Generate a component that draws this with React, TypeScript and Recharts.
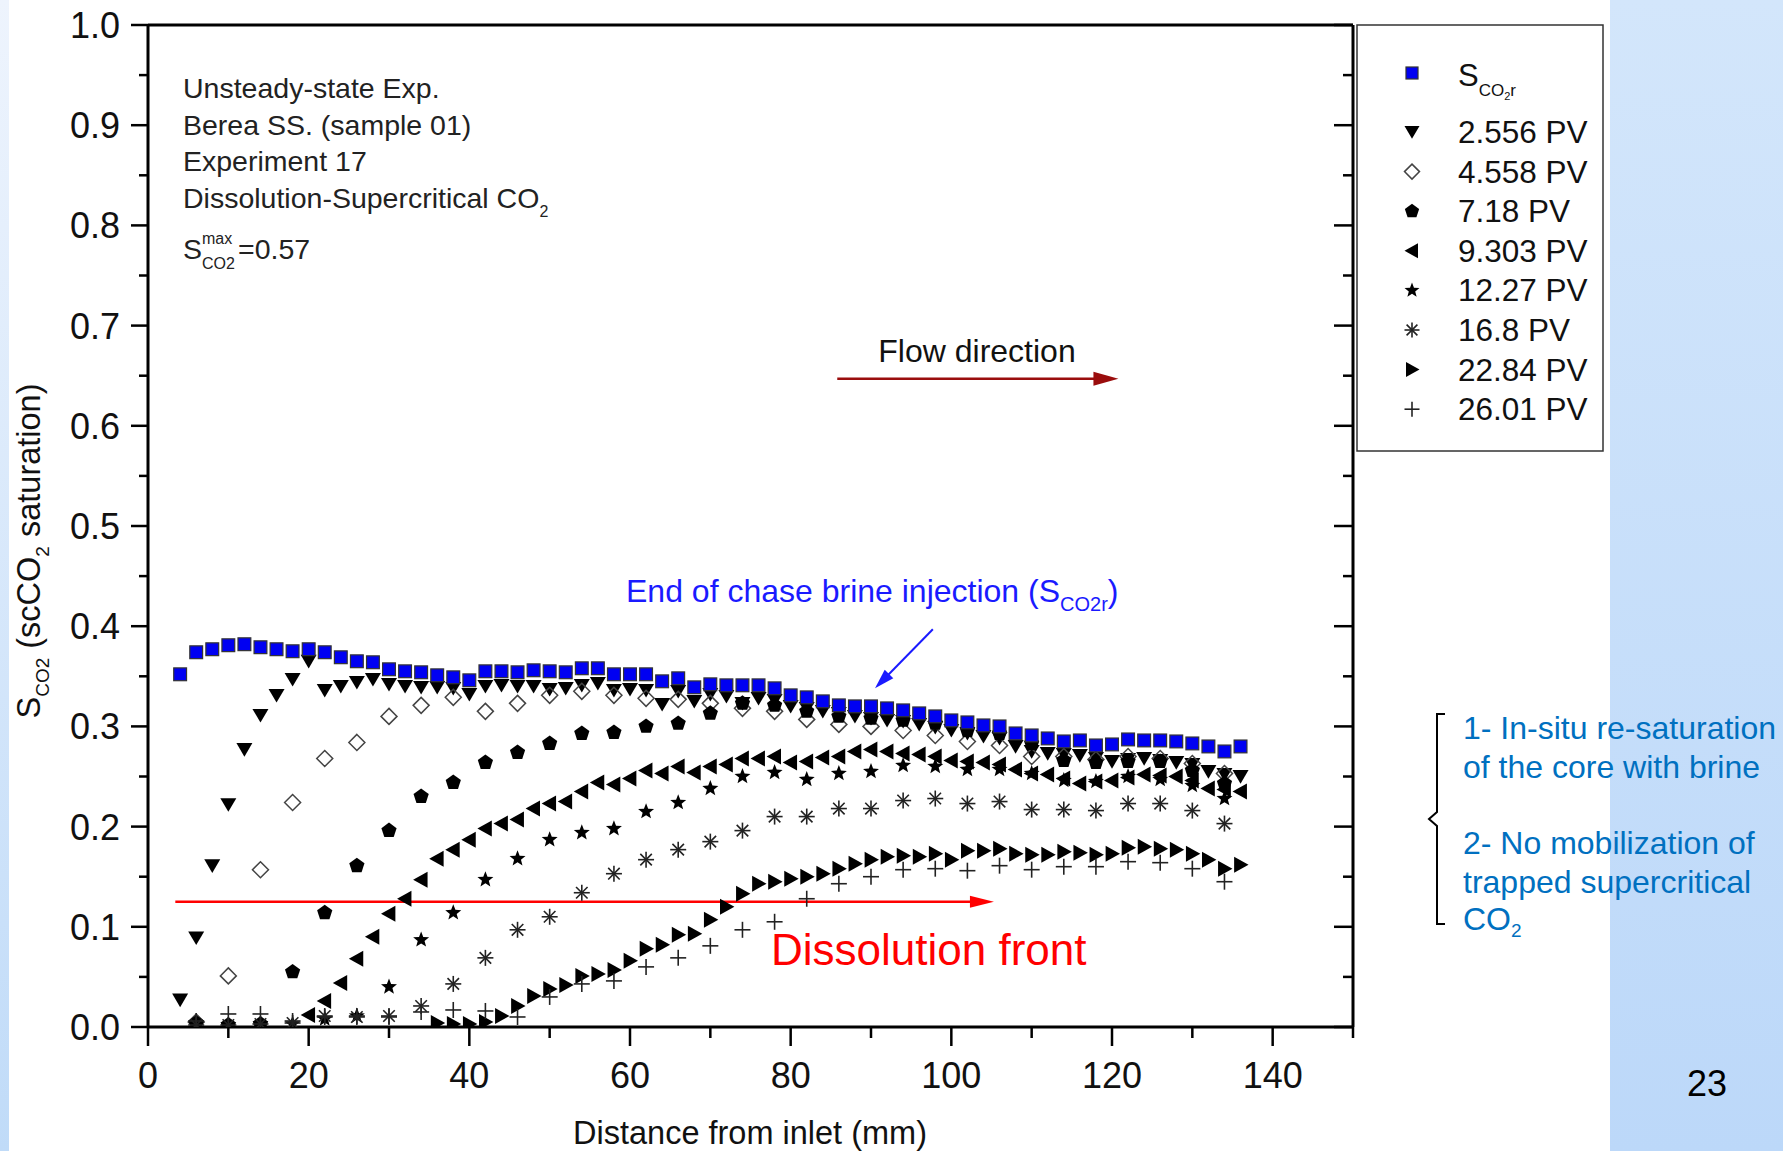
import React from "react";
import { ScatterChart, Scatter, XAxis, YAxis, ReferenceLine } from "recharts";

const FONT = "'Liberation Sans', Arial, Helvetica, sans-serif";

// distance from inlet (mm)
const X_STEP2 = [
  4, 6, 8, 10, 12, 14, 16, 18, 20, 22, 24, 26, 28, 30, 32, 34, 36, 38, 40, 42, 44, 46, 48, 50, 52, 54, 56, 58, 60, 62,
  64, 66, 68, 70, 72, 74, 76, 78, 80, 82, 84, 86, 88, 90, 92, 94, 96, 98, 100, 102, 104, 106, 108, 110, 112, 114, 116,
  118, 120, 122, 124, 126, 128, 130, 132, 134, 136,
];
const X_STEP4 = [
  6, 10, 14, 18, 22, 26, 30, 34, 38, 42, 46, 50, 54, 58, 62, 66, 70, 74, 78, 82, 86, 90, 94, 98, 102, 106, 110, 114,
  118, 122, 126, 130, 134,
];
const X_FROM20 = X_STEP2.slice(8);
const X_FROM36 = X_STEP2.slice(16);

// saturation values
const SCO2R = [
  0.352, 0.374, 0.377, 0.381, 0.382, 0.379, 0.377, 0.375, 0.377, 0.374,
  0.369, 0.365, 0.364, 0.357, 0.355, 0.354, 0.351, 0.349, 0.346, 0.355,
  0.355, 0.354, 0.356, 0.355, 0.354, 0.358, 0.358, 0.352, 0.352, 0.352,
  0.345, 0.348, 0.339, 0.342, 0.341, 0.341, 0.341, 0.338, 0.331, 0.329,
  0.325, 0.321, 0.32, 0.32, 0.318, 0.316, 0.313, 0.31, 0.306, 0.304,
  0.301, 0.3, 0.293, 0.291, 0.288, 0.285, 0.286, 0.281, 0.282, 0.287,
  0.286, 0.286, 0.285, 0.283, 0.28, 0.275, 0.28,
];
const PV_2556 = [
  0.027, 0.089, 0.161, 0.222, 0.277, 0.311, 0.331, 0.347, 0.365, 0.336,
  0.34, 0.344, 0.347, 0.342, 0.34, 0.339, 0.339, 0.338, 0.332, 0.34,
  0.341, 0.34, 0.34, 0.337, 0.338, 0.341, 0.343, 0.336, 0.337, 0.336,
  0.322, 0.335, 0.325, 0.332, 0.33, 0.323, 0.328, 0.326, 0.32, 0.318,
  0.315, 0.313, 0.31, 0.308, 0.306, 0.305, 0.302, 0.299, 0.296, 0.293,
  0.29, 0.288, 0.28, 0.275, 0.273, 0.272, 0.271, 0.268, 0.265, 0.267,
  0.268, 0.266, 0.264, 0.262, 0.255, 0.252, 0.25,
];
const PV_4558 = [
  0.005, 0.051, 0.157, 0.224, 0.268, 0.284, 0.31, 0.321, 0.329, 0.315,
  0.323, 0.331, 0.335, 0.331, 0.328, 0.327, 0.323, 0.318, 0.315, 0.307,
  0.302, 0.3, 0.296, 0.291, 0.285, 0.281, 0.27, 0.27, 0.267, 0.27,
  0.268, 0.263, 0.253,
];
const PV_718 = [
  0.004, 0.002, 0.003, 0.055, 0.114, 0.161, 0.196, 0.23, 0.244, 0.264,
  0.274, 0.283, 0.293, 0.294, 0.3, 0.303, 0.313, 0.323, 0.321, 0.315,
  0.31, 0.308, 0.306, 0.303, 0.296, 0.293, 0.283, 0.266, 0.264, 0.265,
  0.265, 0.256, 0.243,
];
const PV_9303 = [
  0.012, 0.026, 0.044, 0.068, 0.09, 0.113, 0.128, 0.147, 0.168, 0.177,
  0.187, 0.198, 0.203, 0.207, 0.218, 0.223, 0.225, 0.235, 0.244, 0.242,
  0.248, 0.256, 0.253, 0.26, 0.254, 0.26, 0.262, 0.268, 0.268, 0.27,
  0.264, 0.265, 0.269, 0.27, 0.275, 0.277, 0.275, 0.273, 0.272, 0.27,
  0.266, 0.265, 0.264, 0.262, 0.257, 0.253, 0.252, 0.248, 0.243, 0.245,
  0.246, 0.249, 0.252, 0.251, 0.25, 0.246, 0.238, 0.237, 0.235,
];
const PV_1227 = [
  0.002, 0.002, 0.003, 0.003, 0.008, 0.011, 0.04, 0.087, 0.114, 0.147,
  0.168, 0.187, 0.194, 0.198, 0.215, 0.224, 0.238, 0.25, 0.254, 0.247,
  0.253, 0.255, 0.261, 0.26, 0.257, 0.257, 0.253, 0.246, 0.245, 0.25,
  0.247, 0.241, 0.228,
];
const PV_168 = [
  0.002, 0.002, 0.003, 0.004, 0.011, 0.01, 0.011, 0.021, 0.043, 0.069,
  0.097, 0.11, 0.134, 0.153, 0.167, 0.177, 0.185, 0.196, 0.21, 0.21,
  0.218, 0.218, 0.226, 0.228, 0.223, 0.225, 0.217, 0.217, 0.216, 0.223,
  0.223, 0.216, 0.203,
];
const PV_2284 = [
  0.004, 0.003, 0.003, 0.005, 0.011, 0.021, 0.031, 0.038, 0.042, 0.051,
  0.053, 0.057, 0.066, 0.078, 0.082, 0.092, 0.093, 0.107, 0.12, 0.133,
  0.143, 0.145, 0.148, 0.15, 0.153, 0.158, 0.163, 0.167, 0.17, 0.171,
  0.17, 0.173, 0.167, 0.176, 0.176, 0.178, 0.173, 0.172, 0.172, 0.175,
  0.174, 0.172, 0.173, 0.179, 0.18, 0.178, 0.177, 0.173, 0.167, 0.158,
  0.162,
];
const PV_2601 = [
  0.006, 0.013, 0.013, 0.006, 0.01, 0.011, 0.01, 0.015, 0.017, 0.016,
  0.01, 0.03, 0.043, 0.046, 0.06, 0.069, 0.081, 0.097, 0.105, 0.128,
  0.143, 0.15, 0.157, 0.158, 0.156, 0.161, 0.157, 0.16, 0.16, 0.165,
  0.164, 0.158, 0.145,
];

const X_TICKS = [0, 10, 20, 30, 40, 50, 60, 70, 80, 90, 100, 110, 120, 130, 140, 150];
const Y_TICKS = [
  0, 0.05, 0.1, 0.15, 0.2, 0.25, 0.3, 0.35, 0.4, 0.45, 0.5, 0.55, 0.6, 0.65, 0.7, 0.75, 0.8, 0.85, 0.9, 0.95, 1.0,
];

// annotation arrows (data coordinates)
const FRONT_ARROW = [{ x: 3.4, y: 0.125 }, { x: 105.3, y: 0.125 }];
const FLOW_ARROW = [{ x: 85.8, y: 0.647 }, { x: 120.8, y: 0.647 }];
const CHASE_ARROW = [{ x: 97.7, y: 0.397 }, { x: 90.5, y: 0.338 }];

type Kind = "square" | "down" | "diamond" | "pentagon" | "left" | "star" | "asterisk" | "right" | "plus";

const toPoints = (xs: number[], ys: number[]) => ys.map((y, i) => ({ x: xs[i], y }));

const SERIES: { name: string; kind: Kind; data: { x: number; y: number }[] }[] = [
  { name: "2.556 PV", kind: "down", data: toPoints(X_STEP2, PV_2556) },
  { name: "4.558 PV", kind: "diamond", data: toPoints(X_STEP4, PV_4558) },
  { name: "7.18 PV", kind: "pentagon", data: toPoints(X_STEP4, PV_718) },
  { name: "9.303 PV", kind: "left", data: toPoints(X_FROM20, PV_9303) },
  { name: "12.27 PV", kind: "star", data: toPoints(X_STEP4, PV_1227) },
  { name: "16.8 PV", kind: "asterisk", data: toPoints(X_STEP4, PV_168) },
  { name: "22.84 PV", kind: "right", data: toPoints(X_FROM36, PV_2284) },
  { name: "26.01 PV", kind: "plus", data: toPoints(X_STEP4, PV_2601) },
];
const SCO2R_DATA = toPoints(X_STEP2, SCO2R);

function Marker({ kind, cx, cy, r = 8 }: { kind: Kind; cx: number; cy: number; r?: number }) {
  if (cx == null || cy == null) return null;
  switch (kind) {
    case "square": {
      const h = r * 0.8;
      return <rect x={cx - h} y={cy - h} width={2 * h} height={2 * h} fill="#0000f2" stroke="#333" strokeWidth={1.2} />;
    }
    case "down":
      return <polygon points={`${cx - r},${cy - r * 0.8} ${cx + r},${cy - r * 0.8} ${cx},${cy + r * 0.9}`} fill="#000" />;
    case "diamond":
      return (
        <polygon
          points={`${cx},${cy - r} ${cx + r},${cy} ${cx},${cy + r} ${cx - r},${cy}`}
          fill="none"
          stroke="#444"
          strokeWidth={1.5}
        />
      );
    case "pentagon": {
      const pts = [0, 1, 2, 3, 4]
        .map((k) => {
          const a = ((-90 + 72 * k) * Math.PI) / 180;
          return `${cx + r * Math.cos(a)},${cy + r * Math.sin(a)}`;
        })
        .join(" ");
      return <polygon points={pts} fill="#000" />;
    }
    case "left":
      return <polygon points={`${cx - r},${cy} ${cx + r * 0.8},${cy - r} ${cx + r * 0.8},${cy + r}`} fill="#000" />;
    case "right":
      return <polygon points={`${cx + r},${cy} ${cx - r * 0.8},${cy - r} ${cx - r * 0.8},${cy + r}`} fill="#000" />;
    case "star": {
      const pts = Array.from({ length: 10 }, (_, k) => {
        const a = ((-90 + 36 * k) * Math.PI) / 180;
        const rr = k % 2 === 0 ? r * 1.05 : r * 0.45;
        return `${cx + rr * Math.cos(a)},${cy + rr * Math.sin(a)}`;
      }).join(" ");
      return <polygon points={pts} fill="#000" />;
    }
    case "asterisk": {
      const d = r * 0.72;
      return (
        <g stroke="#222" strokeWidth={1.6}>
          <line x1={cx} y1={cy - r} x2={cx} y2={cy + r} />
          <line x1={cx - r} y1={cy} x2={cx + r} y2={cy} />
          <line x1={cx - d} y1={cy - d} x2={cx + d} y2={cy + d} />
          <line x1={cx - d} y1={cy + d} x2={cx + d} y2={cy - d} />
        </g>
      );
    }
    case "plus":
      return (
        <g stroke="#222" strokeWidth={1.6}>
          <line x1={cx} y1={cy - r} x2={cx} y2={cy + r} />
          <line x1={cx - r} y1={cy} x2={cx + r} y2={cy} />
        </g>
      );
  }
  return null;
}

const isMajorX = (v: number) => v % 20 === 0;
const isMajorY = (v: number) => Math.round(v * 20) % 2 === 0;

function BottomTick(props: any) {
  const { x, y, payload } = props;
  const v = payload.value;
  const major = isMajorX(v);
  return (
    <g>
      <line x1={x} y1={y} x2={x} y2={y + (major ? 19 : 11)} stroke="#000" strokeWidth={2.5} />
      {major && v < 150 && (
        <text x={x} y={y + 61} textAnchor="middle" fontSize={36} fontFamily={FONT} fill="#111">
          {v}
        </text>
      )}
    </g>
  );
}

function TopTick(props: any) {
  const { x, y, payload } = props;
  const major = isMajorX(payload.value);
  return <line x1={x} y1={y} x2={x} y2={y + (major ? 19 : 11)} stroke="#000" strokeWidth={2.5} />;
}

function LeftTick(props: any) {
  const { x, y, payload } = props;
  const v = payload.value;
  const major = isMajorY(v);
  return (
    <g>
      <line x1={x - (major ? 17 : 9)} y1={y} x2={x} y2={y} stroke="#000" strokeWidth={2.5} />
      {major && (
        <text x={x - 28} y={y} dy="0.36em" textAnchor="end" fontSize={36} fontFamily={FONT} fill="#111">
          {v.toFixed(1)}
        </text>
      )}
    </g>
  );
}

function RightTick(props: any) {
  const { x, y, payload } = props;
  const major = isMajorY(payload.value);
  return <line x1={x - (major ? 19 : 10)} y1={y} x2={x} y2={y} stroke="#000" strokeWidth={2.5} />;
}

const arrowShape = (color: string, width: number, headLen: number, headW: number) => (p: any) => {
  const { x1, y1, x2, y2 } = p;
  const dx = x2 - x1;
  const dy = y2 - y1;
  const len = Math.hypot(dx, dy) || 1;
  const ux = dx / len;
  const uy = dy / len;
  const bx = x2 - ux * headLen;
  const by = y2 - uy * headLen;
  const nx = -uy;
  const ny = ux;
  return (
    <g>
      <line x1={x1} y1={y1} x2={bx + ux * 2} y2={by + uy * 2} stroke={color} strokeWidth={width} />
      <polygon
        points={`${x2},${y2} ${bx + (nx * headW) / 2},${by + (ny * headW) / 2} ${bx - (nx * headW) / 2},${by - (ny * headW) / 2}`}
        fill={color}
      />
    </g>
  );
};

function Overlay() {
  const legendRows: { kind: Kind; label: string }[] = SERIES.map((s) => ({ kind: s.kind, label: s.name }));
  return (
    <svg
      width={1783}
      height={1151}
      style={{ position: "absolute", left: 0, top: 0, pointerEvents: "none" }}
      fontFamily={FONT}
    >
      {/* info block */}
      <g fontSize={28.5} fill="#222">
        <text x={183} y={98}>Unsteady-state Exp.</text>
        <text x={183} y={134.5}>Berea SS. (sample 01)</text>
        <text x={183} y={171}>Experiment 17</text>
        <text x={183} y={207.5}>
          Dissolution-Supercritical CO<tspan fontSize={16} dy={9}>2</tspan>
        </text>
        <text x={183} y={259}>S</text>
        <text x={202} y={244} fontSize={16}>max</text>
        <text x={202} y={269} fontSize={16}>CO2</text>
        <text x={238} y={259}>=0.57</text>
      </g>

      <text x={977} y={362} fontSize={32} textAnchor="middle" fill="#111">
        Flow direction
      </text>

      <text x={626} y={602} fontSize={32} fill="#1a1aff">
        End of chase brine injection (S<tspan fontSize={20} dy={9}>CO2r</tspan>
        <tspan dy={-9}>)</tspan>
      </text>

      <text x={771} y={965} fontSize={44} fill="#ff0000">
        Dissolution front
      </text>

      {/* axis titles */}
      <text transform="translate(40,551) rotate(-90)" textAnchor="middle" fontSize={32.5} fill="#111">
        S<tspan fontSize={19} dy={9}>CO2</tspan>
        <tspan dy={-9}> (scCO</tspan>
        <tspan fontSize={19} dy={9}>2</tspan>
        <tspan dy={-9}> saturation)</tspan>
      </text>
      <text x={750} y={1144} textAnchor="middle" fontSize={32.5} fill="#111">
        Distance from inlet (mm)
      </text>

      {/* legend */}
      <rect x={1357} y={25} width={246} height={426} fill="#fff" stroke="#333" strokeWidth={1.5} />
      <Marker kind="square" cx={1412} cy={73} r={7.5} />
      <text x={1458} y={86} fontSize={31} fill="#111">
        S<tspan fontSize={17} dy={10}>CO</tspan>
        <tspan fontSize={11} dy={4}>2</tspan>
        <tspan fontSize={17} dy={-4}>r</tspan>
      </text>
      {legendRows.map((row, i) => (
        <g key={row.label}>
          <Marker kind={row.kind} cx={1412} cy={132 + i * 39.6} r={7.5} />
          <text x={1458} y={143 + i * 39.6} fontSize={31.5} fill="#111">
            {row.label}
          </text>
        </g>
      ))}

      {/* right annotations */}
      <path
        d="M1445,714 L1437,714 L1437,812 L1429,819 L1437,826 L1437,924 L1445,924"
        fill="none"
        stroke="#000"
        strokeWidth={2}
      />
      <g fontSize={32} fill="#0070c0">
        <text x={1463} y={739}>1- In-situ re-saturation</text>
        <text x={1463} y={778}>of the core with brine</text>
        <text x={1463} y={854}>2- No mobilization of</text>
        <text x={1463} y={893}>trapped supercritical</text>
        <text x={1463} y={930}>
          CO<tspan fontSize={19} dy={7}>2</tspan>
        </text>
      </g>

      <text x={1707} y={1096} textAnchor="middle" fontSize={36} fill="#000">
        23
      </text>
    </svg>
  );
}

export default function App() {
  return (
    <div style={{ position: "relative", width: 1783, height: 1151, background: "#fff", overflow: "hidden" }}>
      <style>{"body{margin:0}"}</style>
      <div
        style={{
          position: "absolute",
          left: 0,
          top: 0,
          width: 9,
          height: 1151,
          background: "linear-gradient(to bottom, #eef4fd, #c0dbf8)",
        }}
      />
      <div
        style={{
          position: "absolute",
          left: 1610,
          top: 0,
          width: 173,
          height: 1151,
          background: "linear-gradient(to bottom, #d3e6fb, #bcd8f9)",
        }}
      />
      <div style={{ position: "absolute", left: 0, top: 0 }}>
        <ScatterChart width={1783} height={1151} margin={{ top: 15, right: 370, bottom: 64, left: 88 }}>
          <XAxis
            xAxisId="b"
            type="number"
            dataKey="x"
            domain={[0, 150]}
            allowDataOverflow
            ticks={X_TICKS}
            interval={0}
            orientation="bottom"
            height={60}
            tickSize={0}
            tickMargin={0}
            axisLine={{ stroke: "#000", strokeWidth: 3 }}
            tickLine={false}
            tick={<BottomTick />}
          />
          <XAxis
            xAxisId="t"
            type="number"
            domain={[0, 150]}
            allowDataOverflow
            ticks={X_TICKS}
            interval={0}
            orientation="top"
            height={10}
            tickSize={0}
            tickMargin={0}
            axisLine={{ stroke: "#000", strokeWidth: 3 }}
            tickLine={false}
            tick={<TopTick />}
          />
          <YAxis
            yAxisId="l"
            type="number"
            dataKey="y"
            domain={[0, 1]}
            allowDataOverflow
            ticks={Y_TICKS}
            interval={0}
            orientation="left"
            width={60}
            tickSize={0}
            tickMargin={0}
            axisLine={{ stroke: "#000", strokeWidth: 3 }}
            tickLine={false}
            tick={<LeftTick />}
          />
          <YAxis
            yAxisId="r"
            type="number"
            domain={[0, 1]}
            allowDataOverflow
            ticks={Y_TICKS}
            interval={0}
            orientation="right"
            width={60}
            tickSize={0}
            tickMargin={0}
            axisLine={{ stroke: "#000", strokeWidth: 3 }}
            tickLine={false}
            tick={<RightTick />}
          />
          {SERIES.map((s) => (
            <Scatter
              key={s.name}
              name={s.name}
              data={s.data}
              xAxisId="b"
              yAxisId="l"
              isAnimationActive={false}
              shape={(p: any) => <Marker kind={s.kind} cx={p.cx} cy={p.cy} />}
            />
          ))}
          <Scatter
            name="SCO2r"
            data={SCO2R_DATA}
            xAxisId="b"
            yAxisId="l"
            isAnimationActive={false}
            shape={(p: any) => <Marker kind="square" cx={p.cx} cy={p.cy} />}
          />
          <ReferenceLine xAxisId="b" yAxisId="l" segment={FRONT_ARROW} shape={arrowShape("#ff0000", 2.5, 24, 12)} />
          <ReferenceLine xAxisId="b" yAxisId="l" segment={FLOW_ARROW} shape={arrowShape("#9a0d0d", 2.5, 25, 14)} />
          <ReferenceLine xAxisId="b" yAxisId="l" segment={CHASE_ARROW} shape={arrowShape("#1a1aff", 2, 20, 12)} />
        </ScatterChart>
      </div>
      <Overlay />
    </div>
  );
}
